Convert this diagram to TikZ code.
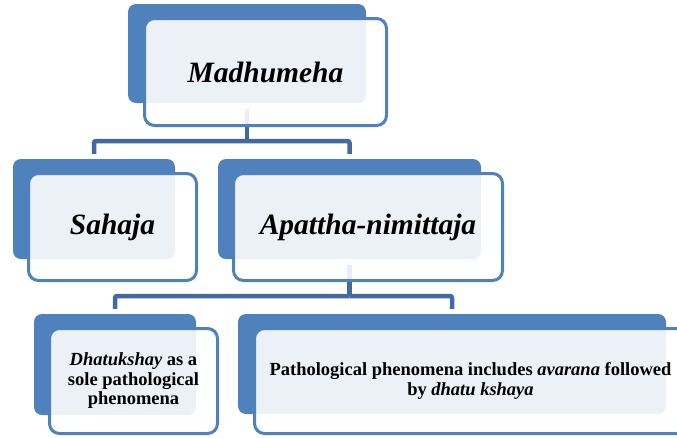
\documentclass[tikz,border=0pt]{standalone}
\usepackage{fontspec}
\setmainfont{Liberation Serif}
\definecolor{accent}{RGB}{79,129,189}
\definecolor{connc}{RGB}{66,106,160}
\tikzset{
  backbox/.style={draw=none, fill=accent, rounded corners=8pt, inner sep=0pt},
  frontbox/.style={draw=accent, line width=3pt, fill=white, fill opacity=0.89, text opacity=1,
    rounded corners=10pt, inner sep=0pt, align=center, text=black},
  bigtxt/.style={font=\fontsize{29.5}{34}\selectfont\bfseries\itshape},
  smalltxt/.style={font=\fontsize{18.5}{19.5}\selectfont\bfseries},
  conn/.style={draw=connc, line width=4.5pt, rounded corners=2pt}
}
\begin{document}
\begin{tikzpicture}[x=1pt,y=-1pt]
\useasboundingbox (0,0) rectangle (677,437);
\fill[white] (0,0) rectangle (677,437);
\clip (0,0) rectangle (677,437);
% back boxes
\node[backbox, minimum width=238pt, minimum height=99pt] (mB) at (247,53.5) {};
\node[backbox, minimum width=162pt, minimum height=100pt] (sB) at (94,209) {};
\node[backbox, minimum width=263pt, minimum height=100pt] (aB) at (349.5,209) {};
\node[backbox, minimum width=162pt, minimum height=101pt] (dB) at (115,364.5) {};
\node[backbox, minimum width=428pt, minimum height=100pt] (pB) at (452,364) {};
% connectors
\coordinate (bus1) at (247,141);
\coordinate (bus2) at (349.5,296);
\draw[conn, shorten <=6pt] (mB.south) -- (bus1);
\draw[conn, shorten >=5pt] (bus1) -| (sB.north);
\draw[conn, shorten >=5pt] (bus1) -| (aB.north);
\draw[conn, shorten <=6pt] (aB.south) -- (bus2);
\draw[conn, shorten >=5pt] (bus2) -| (dB.north);
\draw[conn, shorten >=5pt] (bus2) -| (pB.north);
% front boxes
\node[frontbox, bigtxt, minimum width=242pt, minimum height=107pt] (m) at (265.5,72) {Madhumeha};
\node[frontbox, bigtxt, minimum width=168pt, minimum height=107pt] (s) at (112.5,227) {Sahaja};
\node[frontbox, bigtxt, minimum width=269pt, minimum height=107pt] (a) at (368,227) {Apattha-nimittaja};
\node[frontbox, smalltxt, minimum width=168pt, minimum height=105pt] (d) at (133.5,381)
  {\textit{Dhatukshay} as a\\sole pathological\\phenomena};
\node[frontbox, smalltxt, minimum width=432pt, minimum height=105pt] (p) at (470.5,381)
  {Pathological phenomena includes \textit{avarana} followed\\by \textit{dhatu kshaya}};
\end{tikzpicture}
\end{document}
